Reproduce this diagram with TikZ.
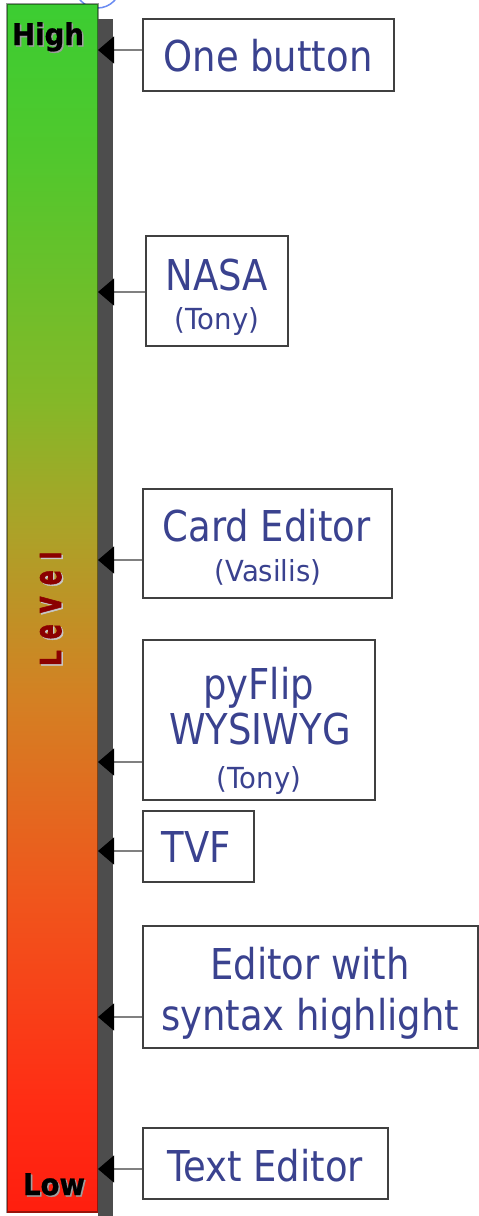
\documentclass[tikz,border=0pt]{standalone}
\usepackage{fontspec}
\usepackage{graphicx}
\usetikzlibrary{arrows.meta}
\newfontfamily\bigf[FakeStretch=0.87]{DejaVu Sans}
\newfontfamily\smallf[FakeStretch=0.95]{DejaVu Sans}
\newfontfamily\boldf[FakeStretch=0.92,FakeBold=0.8]{DejaVu Sans Bold}
\newfontfamily\lvlf[FakeBold=2]{DejaVu Sans Bold}
\definecolor{txt}{RGB}{58,66,143}
\definecolor{lvl}{RGB}{139,0,0}
\definecolor{shadowbar}{RGB}{77,77,77}
\definecolor{circblue}{RGB}{107,140,242}
\definecolor{g0}{RGB}{255,30,15}
\definecolor{g1}{RGB}{255,45,20}
\definecolor{g2}{RGB}{240,85,28}
\definecolor{g3}{RGB}{212,128,35}
\definecolor{g4}{RGB}{172,162,40}
\definecolor{g5}{RGB}{132,184,40}
\definecolor{g6}{RGB}{80,200,45}
\definecolor{g7}{RGB}{60,205,50}
\pgfdeclareverticalshading{levelbar}{100bp}{color(0bp)=(g0); color(25bp)=(g0); color(29.6bp)=(g1); color(37.9bp)=(g2); color(46.2bp)=(g3); color(53.2bp)=(g4); color(58.6bp)=(g5); color(68.9bp)=(g6); color(75bp)=(g7); color(100bp)=(g7)}
% even-height letters for the rotated "Level" label
\newcommand{\evenltr}[2]{\resizebox{#1}{21pt}{#2}}
\newcommand{\levelword}{\evenltr{16pt}{L}\kern11pt\evenltr{15pt}{e}\kern11pt\evenltr{17pt}{v}\kern11pt\evenltr{15pt}{e}\kern11pt\evenltr{7.5pt}{l}}
\tikzset{
  box/.style={draw=black!75, line width=1.3pt, fill=white, inner sep=0pt},
  bigtxt/.style={inner sep=0pt, anchor=base, text=txt, font=\bigf\fontsize{42.5}{48}\selectfont},
  smalltxt/.style={inner sep=0pt, anchor=base, text=txt, font=\smallf\fontsize{29}{32}\selectfont},
  endlbl/.style={inner sep=0pt, anchor=base, font=\boldf\fontsize{30}{34}\selectfont},
  lvltxt/.style={inner sep=0pt, anchor=base, rotate=90, font=\lvlf\fontsize{24}{28}\selectfont},
  conn/.style={draw=black!50, line width=1.1pt, -{Triangle[length=16pt,width=27pt,color=black]}},
}
\begin{document}
\begin{tikzpicture}[x=1pt,y=-1pt]
\useasboundingbox (0,0) rectangle (479,1216);
% partial circle at top
\draw[circblue, line width=1.5pt] (97.5,-15) circle[radius=23pt];
% level bar
\shade[shading=levelbar] (7,4) rectangle (98,1212);
\draw[black, draw opacity=0.4, line width=1.2pt] (7,4) rectangle (98,1212);
\fill[shadowbar] (98,19) rectangle (113,1216);
% bar labels
\node[endlbl, text=black!38] (highs) at (49.5,46.5) {High};
\node[endlbl, text=black] (high) at (48,45) {High};
\node[endlbl, text=black!38] (lows) at (55.5,1196.5) {Low};
\node[endlbl, text=black] (low) at (54,1195) {Low};
\node[lvltxt, text=black!22] (levels) at (62.5,610.5) {\levelword};
\node[lvltxt, text=lvl] (level) at (61,609) {\levelword};
% boxes
\node[box, minimum width=251pt, minimum height=72pt] (b1) at (268.5,55) {};
\node[box, minimum width=142pt, minimum height=110pt] (b2) at (217,291) {};
\node[box, minimum width=249pt, minimum height=109pt] (b3) at (267.5,543.5) {};
\node[box, minimum width=232pt, minimum height=160pt] (b4) at (259,720) {};
\node[box, minimum width=111pt, minimum height=71pt] (b5) at (198.5,846.5) {};
\node[box, minimum width=335pt, minimum height=122pt] (b6) at (310.5,987) {};
\node[box, minimum width=245pt, minimum height=71pt] (b7) at (265.5,1163.5) {};
% texts
\node[bigtxt] (t1) at (268,71) {One button};
\node[bigtxt] (t2a) at (217,290) {NASA};
\node[smalltxt] (t2b) at (217,329) {(Tony)};
\node[bigtxt] (t3a) at (266.5,541) {Card Editor};
\node[smalltxt] (t3b) at (268,581) {(Vasilis)};
\node[bigtxt] (t4a) at (258.5,699) {pyFlip};
\node[bigtxt] (t4b) at (260,744) {WYSIWYG};
\node[smalltxt] (t4c) at (259,788) {(Tony)};
\node[bigtxt] (t5) at (196,862) {TVF};
\node[bigtxt] (t6a) at (310,979) {Editor with};
\node[bigtxt] (t6b) at (310,1030) {syntax highlight};
\node[bigtxt] (t7) at (265,1181) {Text Editor};
% arrow tips
\coordinate (a1) at (98,50);
\coordinate (a2) at (98,292);
\coordinate (a3) at (98,560);
\coordinate (a4) at (98,762);
\coordinate (a5) at (98,851);
\coordinate (a6) at (98,1017);
\coordinate (a7) at (98,1169);
\draw[conn] (b1.west |- a1) -- (a1);
\draw[conn] (b2.west |- a2) -- (a2);
\draw[conn] (b3.west |- a3) -- (a3);
\draw[conn] (b4.west |- a4) -- (a4);
\draw[conn] (b5.west |- a5) -- (a5);
\draw[conn] (b6.west |- a6) -- (a6);
\draw[conn] (b7.west |- a7) -- (a7);
\end{tikzpicture}
\end{document}
